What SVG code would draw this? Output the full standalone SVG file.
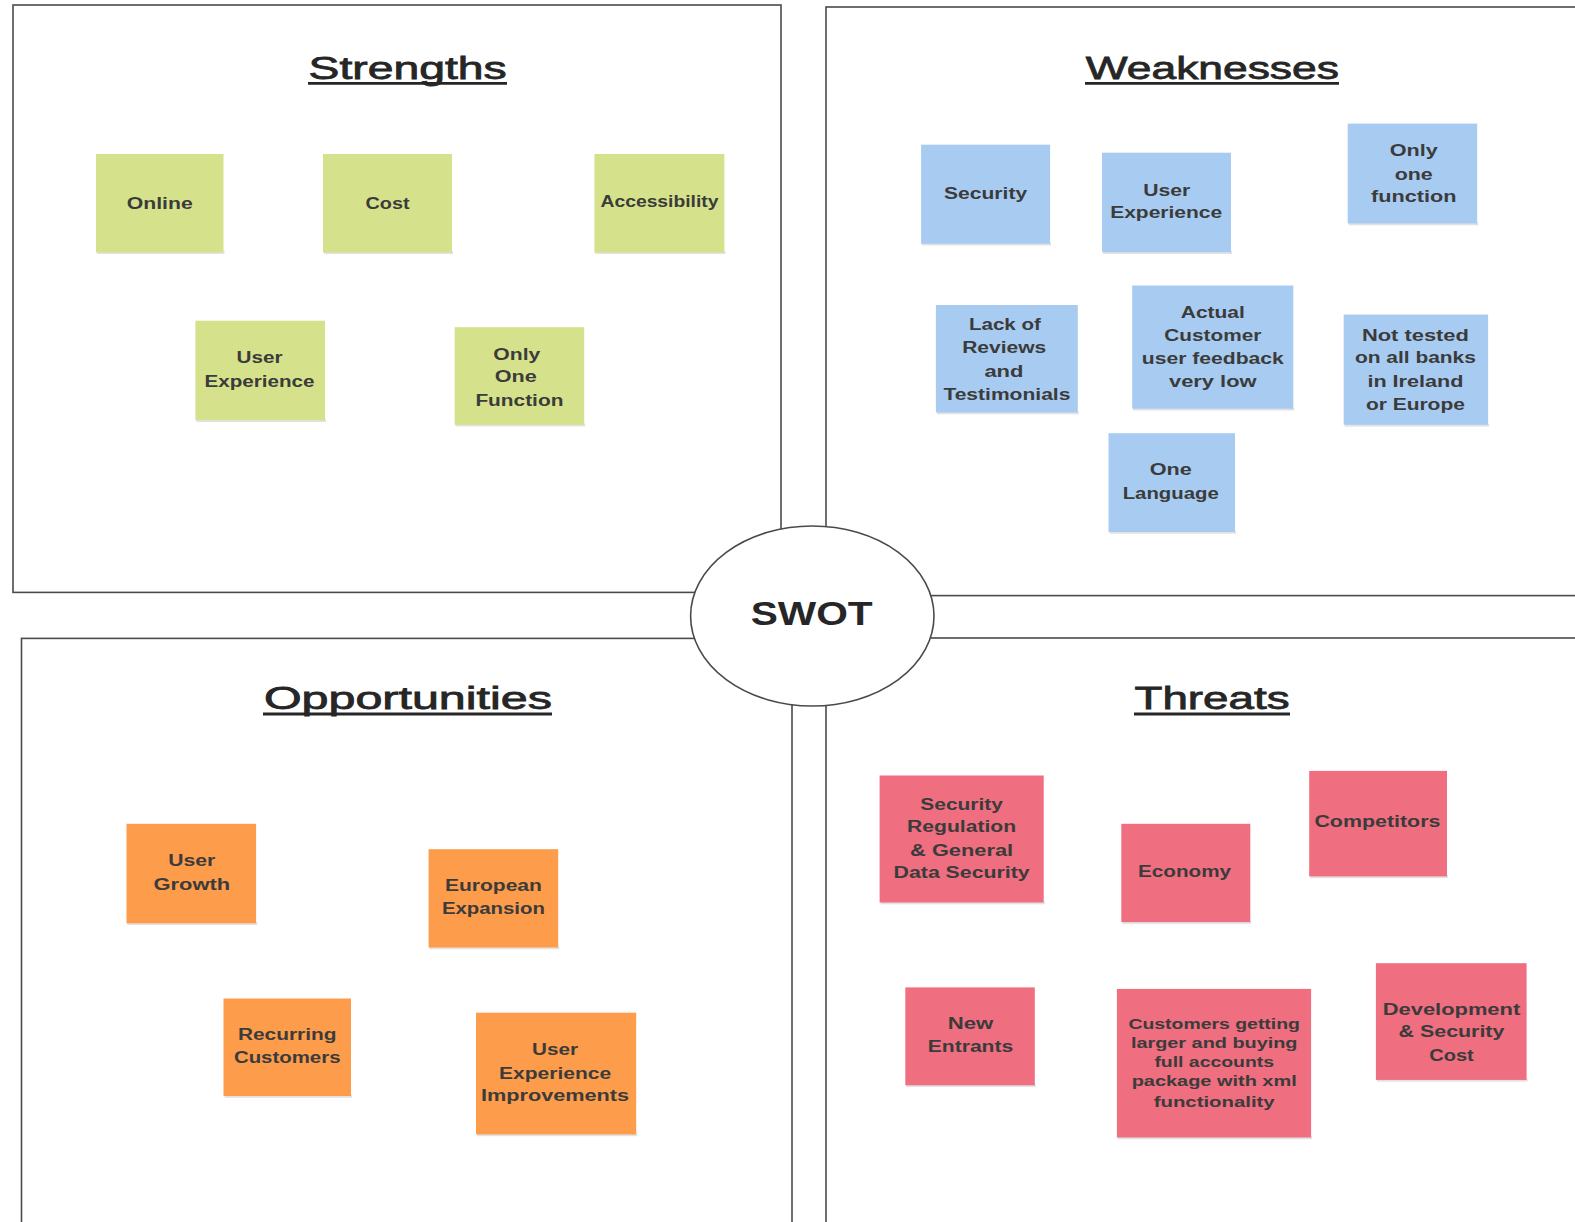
<svg xmlns="http://www.w3.org/2000/svg" width="1575" height="1222" viewBox="0 0 1575 1222">
<style>
.frame{fill:#ffffff;stroke:#4a4a4a;stroke-width:1.6}
.hub{fill:#ffffff;stroke:#4a4a4a;stroke-width:1.6}
.title{font-family:"Liberation Sans",Arial,sans-serif;font-size:32px;fill:#262626;stroke:#262626;stroke-width:0.8;text-anchor:middle}
.ul{stroke:#262626;stroke-width:2.8}
.swot{font-family:"Liberation Sans",Arial,sans-serif;font-weight:bold;font-size:33px;fill:#262626;text-anchor:middle}
.t{font-family:"Liberation Sans",Arial,sans-serif;font-weight:bold;font-size:16px;fill:#3b3b3b;text-anchor:middle}
.ts{font-size:15px}
.sh{fill:#e2e2e2}
.g{fill:#d5e28b}
.b{fill:#a8cbf1}
.o{fill:#fd9c4b}
.p{fill:#ef6e7f}
</style>

<g id="quadrants">
  <rect id="strengths-frame" class="frame" x="13" y="5" width="768" height="587.4"/>
  <rect id="weaknesses-frame" class="frame" x="826" y="7" width="760" height="588.6"/>
  <rect id="opportunities-frame" class="frame" x="21.5" y="638.4" width="770.5" height="600"/>
  <rect id="threats-frame" class="frame" x="826" y="638" width="760" height="600"/>
</g>

<g id="titles">
  <text class="title" x="407.6" y="78.5" textLength="198" lengthAdjust="spacingAndGlyphs">Strengths</text>
  <line class="ul" x1="308" y1="83.4" x2="507" y2="83.4"/>
  <text class="title" x="1212.3" y="78.5" textLength="253" lengthAdjust="spacingAndGlyphs">Weaknesses</text>
  <line class="ul" x1="1085" y1="83.4" x2="1339" y2="83.4"/>
  <text class="title" x="407.9" y="709" textLength="288" lengthAdjust="spacingAndGlyphs">Opportunities</text>
  <line class="ul" x1="263" y1="714" x2="552" y2="714"/>
  <text class="title" x="1212" y="709" textLength="155" lengthAdjust="spacingAndGlyphs">Threats</text>
  <line class="ul" x1="1134" y1="714" x2="1290" y2="714"/>
</g>

<g id="connectors"></g>

<g id="swot">
  <ellipse class="hub" cx="812.3" cy="616" rx="121.7" ry="90"/>
  <text class="swot" x="811.7" y="625" textLength="122" lengthAdjust="spacingAndGlyphs">SWOT</text>
</g>

<!-- Strengths -->
<g id="s-online">
  <rect class="sh" x="97" y="251" width="127.5" height="3"/>
  <rect class="g" x="96" y="154" width="127.5" height="98.5"/>
  <text class="t" x="159.7" y="208.6" textLength="66" lengthAdjust="spacingAndGlyphs">Online</text>
</g>
<g id="s-cost">
  <rect class="sh" x="324" y="251" width="129" height="3"/>
  <rect class="g" x="323" y="154" width="129" height="98.5"/>
  <text class="t" x="387.5" y="208.6" textLength="44" lengthAdjust="spacingAndGlyphs">Cost</text>
</g>
<g id="s-accessibility">
  <rect class="sh" x="595.4" y="251" width="130" height="3"/>
  <rect class="g" x="594.4" y="154" width="130" height="98.5"/>
  <text class="t" x="659.5" y="206.7" textLength="118" lengthAdjust="spacingAndGlyphs">Accessibility</text>
</g>
<g id="s-user-experience">
  <rect class="sh" x="196.4" y="419" width="129.6" height="3"/>
  <rect class="g" x="195.4" y="320.7" width="129.6" height="99.5"/>
  <text class="t" x="259.5" y="362.8" textLength="46" lengthAdjust="spacingAndGlyphs">User</text>
  <text class="t" x="259.5" y="386.5" textLength="110" lengthAdjust="spacingAndGlyphs">Experience</text>
</g>
<g id="s-only-one-function">
  <rect class="sh" x="455.6" y="423.5" width="129.6" height="3"/>
  <rect class="g" x="454.6" y="327.2" width="129.6" height="97.6"/>
  <text class="t" x="516.8" y="359.7" textLength="47" lengthAdjust="spacingAndGlyphs">Only</text>
  <text class="t" x="515.8" y="382" textLength="42" lengthAdjust="spacingAndGlyphs">One</text>
  <text class="t" x="519.4" y="405.7" textLength="88" lengthAdjust="spacingAndGlyphs">Function</text>
</g>

<!-- Weaknesses -->
<g id="w-security">
  <rect class="sh" x="922.1" y="242.5" width="129" height="3"/>
  <rect class="b" x="921.1" y="144.7" width="129" height="99.1"/>
  <text class="t" x="985.6" y="199" textLength="83" lengthAdjust="spacingAndGlyphs">Security</text>
</g>
<g id="w-user-experience">
  <rect class="sh" x="1103" y="251" width="129" height="3"/>
  <rect class="b" x="1102" y="152.7" width="129" height="99.5"/>
  <text class="t" x="1166.7" y="196" textLength="47" lengthAdjust="spacingAndGlyphs">User</text>
  <text class="t" x="1166.2" y="218.1" textLength="112" lengthAdjust="spacingAndGlyphs">Experience</text>
</g>
<g id="w-only-one-function">
  <rect class="sh" x="1348.7" y="222.3" width="129.5" height="3"/>
  <rect class="b" x="1347.7" y="123.6" width="129.5" height="99.9"/>
  <text class="t" x="1413.7" y="156.1" textLength="48" lengthAdjust="spacingAndGlyphs">Only</text>
  <text class="t" x="1413.7" y="179.9" textLength="38" lengthAdjust="spacingAndGlyphs">one</text>
  <text class="t" x="1413.7" y="202" textLength="85.5" lengthAdjust="spacingAndGlyphs">function</text>
</g>
<g id="w-lack-of-reviews">
  <rect class="sh" x="936.9" y="411.3" width="141.9" height="3"/>
  <rect class="b" x="935.9" y="305" width="141.9" height="107.5"/>
  <text class="t" x="1004.9" y="329.9" textLength="72" lengthAdjust="spacingAndGlyphs">Lack of</text>
  <text class="t" x="1004.2" y="352.8" textLength="84" lengthAdjust="spacingAndGlyphs">Reviews</text>
  <text class="t" x="1003.9" y="377" textLength="39" lengthAdjust="spacingAndGlyphs">and</text>
  <text class="t" x="1006.9" y="399.5" textLength="127" lengthAdjust="spacingAndGlyphs">Testimonials</text>
</g>
<g id="w-actual-customer-feedback">
  <rect class="sh" x="1133.2" y="407.5" width="161.1" height="3"/>
  <rect class="b" x="1132.2" y="285.5" width="161.1" height="123.2"/>
  <text class="t" x="1212.8" y="317.6" textLength="64" lengthAdjust="spacingAndGlyphs">Actual</text>
  <text class="t" x="1212.8" y="340.6" textLength="97" lengthAdjust="spacingAndGlyphs">Customer</text>
  <text class="t" x="1212.8" y="363.6" textLength="142" lengthAdjust="spacingAndGlyphs">user feedback</text>
  <text class="t" x="1212.8" y="386.5" textLength="87.5" lengthAdjust="spacingAndGlyphs">very low</text>
</g>
<g id="w-not-tested">
  <rect class="sh" x="1344.7" y="423.6" width="144.4" height="3"/>
  <rect class="b" x="1343.7" y="314.6" width="144.4" height="110.2"/>
  <text class="t" x="1415.4" y="340.6" textLength="107" lengthAdjust="spacingAndGlyphs">Not tested</text>
  <text class="t" x="1415.4" y="362.8" textLength="121" lengthAdjust="spacingAndGlyphs">on all banks</text>
  <text class="t" x="1415.4" y="386.5" textLength="96" lengthAdjust="spacingAndGlyphs">in Ireland</text>
  <text class="t" x="1415.4" y="409.5" textLength="99" lengthAdjust="spacingAndGlyphs">or Europe</text>
</g>
<g id="w-one-language">
  <rect class="sh" x="1109.5" y="530.8" width="126.5" height="3"/>
  <rect class="b" x="1108.5" y="433.2" width="126.5" height="98.8"/>
  <text class="t" x="1170.7" y="474.6" textLength="42" lengthAdjust="spacingAndGlyphs">One</text>
  <text class="t" x="1170.7" y="498.7" textLength="96" lengthAdjust="spacingAndGlyphs">Language</text>
</g>

<!-- Opportunities -->
<g id="o-user-growth">
  <rect class="sh" x="127.5" y="922" width="129.6" height="3"/>
  <rect class="o" x="126.5" y="823.8" width="129.6" height="99.5"/>
  <text class="t" x="191.8" y="865.7" textLength="47" lengthAdjust="spacingAndGlyphs">User</text>
  <text class="t" x="191.8" y="889.9" textLength="76.5" lengthAdjust="spacingAndGlyphs">Growth</text>
</g>
<g id="o-european-expansion">
  <rect class="sh" x="429.6" y="946.3" width="129.6" height="3"/>
  <rect class="o" x="428.6" y="849.2" width="129.6" height="98.3"/>
  <text class="t" x="493.4" y="891.4" textLength="97" lengthAdjust="spacingAndGlyphs">European</text>
  <text class="t" x="493.4" y="913.7" textLength="103" lengthAdjust="spacingAndGlyphs">Expansion</text>
</g>
<g id="o-recurring-customers">
  <rect class="sh" x="224.5" y="1094.8" width="127.5" height="3"/>
  <rect class="o" x="223.5" y="998.5" width="127.5" height="97.5"/>
  <text class="t" x="287.2" y="1040.3" textLength="98.5" lengthAdjust="spacingAndGlyphs">Recurring</text>
  <text class="t" x="287.2" y="1062.6" textLength="106.6" lengthAdjust="spacingAndGlyphs">Customers</text>
</g>
<g id="o-ux-improvements">
  <rect class="sh" x="477" y="1133.2" width="160.2" height="3"/>
  <rect class="o" x="476" y="1012.7" width="160.2" height="121.7"/>
  <text class="t" x="555.1" y="1054.6" textLength="46" lengthAdjust="spacingAndGlyphs">User</text>
  <text class="t" x="555.1" y="1078.7" textLength="112" lengthAdjust="spacingAndGlyphs">Experience</text>
  <text class="t" x="555.1" y="1101" textLength="148" lengthAdjust="spacingAndGlyphs">Improvements</text>
</g>

<!-- Threats -->
<g id="t-security-regulation">
  <rect class="sh" x="880.6" y="901.3" width="164.1" height="3"/>
  <rect class="p" x="879.6" y="775.5" width="164.1" height="127"/>
  <text class="t" x="961.6" y="810" textLength="82.5" lengthAdjust="spacingAndGlyphs">Security</text>
  <text class="t" x="961.6" y="832.3" textLength="109" lengthAdjust="spacingAndGlyphs">Regulation</text>
  <text class="t" x="961.6" y="856.1" textLength="103" lengthAdjust="spacingAndGlyphs">&amp; General</text>
  <text class="t" x="961.6" y="878.3" textLength="136" lengthAdjust="spacingAndGlyphs">Data Security</text>
</g>
<g id="t-economy">
  <rect class="sh" x="1122.3" y="920.9" width="129" height="3"/>
  <rect class="p" x="1121.3" y="823.8" width="129" height="98.3"/>
  <text class="t" x="1184.6" y="877.2" textLength="93" lengthAdjust="spacingAndGlyphs">Economy</text>
</g>
<g id="t-competitors">
  <rect class="sh" x="1310.2" y="875.2" width="137.8" height="3"/>
  <rect class="p" x="1309.2" y="770.9" width="137.8" height="105.5"/>
  <text class="t" x="1377.4" y="827.3" textLength="126" lengthAdjust="spacingAndGlyphs">Competitors</text>
</g>
<g id="t-new-entrants">
  <rect class="sh" x="906.3" y="1084.1" width="129.5" height="3"/>
  <rect class="p" x="905.3" y="987.4" width="129.5" height="97.9"/>
  <text class="t" x="970.5" y="1028.8" textLength="45.5" lengthAdjust="spacingAndGlyphs">New</text>
  <text class="t" x="970.5" y="1051.9" textLength="85.5" lengthAdjust="spacingAndGlyphs">Entrants</text>
</g>
<g id="t-customers-getting-larger">
  <rect class="sh" x="1117.9" y="1136.3" width="194.2" height="3"/>
  <rect class="p" x="1116.9" y="988.9" width="194.2" height="148.6"/>
  <text class="t ts" x="1214.2" y="1028.8" textLength="171.5" lengthAdjust="spacingAndGlyphs">Customers getting</text>
  <text class="t ts" x="1214.2" y="1048" textLength="166.6" lengthAdjust="spacingAndGlyphs">larger and buying</text>
  <text class="t ts" x="1214.2" y="1067.2" textLength="119.6" lengthAdjust="spacingAndGlyphs">full accounts</text>
  <text class="t ts" x="1214.2" y="1086.4" textLength="165" lengthAdjust="spacingAndGlyphs">package with xml</text>
  <text class="t ts" x="1214.2" y="1106.8" textLength="121" lengthAdjust="spacingAndGlyphs">functionality</text>
</g>
<g id="t-development-security-cost">
  <rect class="sh" x="1376.9" y="1078.7" width="150.7" height="3"/>
  <rect class="p" x="1375.9" y="963.2" width="150.7" height="116.7"/>
  <text class="t" x="1451.5" y="1014.6" textLength="137.4" lengthAdjust="spacingAndGlyphs">Development</text>
  <text class="t" x="1451.5" y="1036.9" textLength="105.8" lengthAdjust="spacingAndGlyphs">&amp; Security</text>
  <text class="t" x="1451.5" y="1060.7" textLength="44.5" lengthAdjust="spacingAndGlyphs">Cost</text>
</g>
</svg>
